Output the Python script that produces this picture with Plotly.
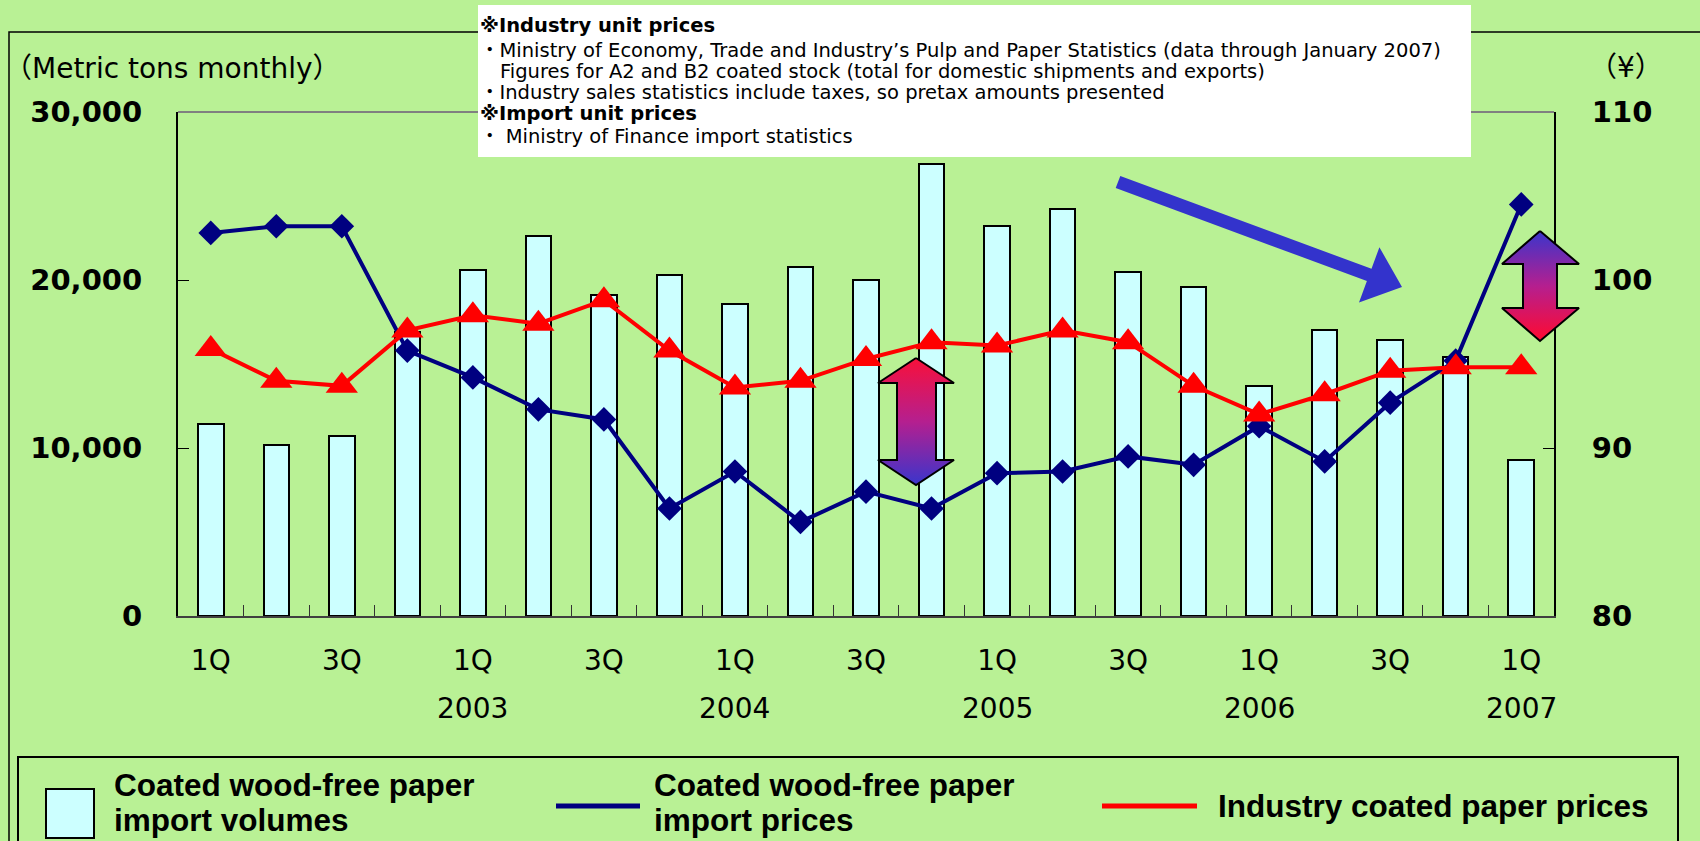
import plotly.graph_objects as go

# ---------------- data ----------------
categories = [
    "2002 1Q", "2002 2Q", "2002 3Q", "2002 4Q",
    "2003 1Q", "2003 2Q", "2003 3Q", "2003 4Q",
    "2004 1Q", "2004 2Q", "2004 3Q", "2004 4Q",
    "2005 1Q", "2005 2Q", "2005 3Q", "2005 4Q",
    "2006 1Q", "2006 2Q", "2006 3Q", "2006 4Q",
    "2007 1Q",
]
tick_text = ["1Q", "", "3Q", "", "1Q", "", "3Q", "", "1Q", "", "3Q", "",
             "1Q", "", "3Q", "", "1Q", "", "3Q", "", "1Q"]
year_text = ["", "", "", "", "2003", "", "", "", "2004", "", "", "",
             "2005", "", "", "", "2006", "", "", "", "2007"]

import_volumes = [11400, 10200, 10700, 16900, 20600, 22600, 19100, 20300,
                  18600, 20800, 20000, 26900, 23200, 24200, 20500, 19600,
                  13700, 17000, 16400, 15400, 9300]
import_prices = [102.8, 103.2, 103.2, 95.8, 94.2, 92.3, 91.7, 86.4,
                 88.6, 85.6, 87.4, 86.4, 88.5, 88.6, 89.5, 89.0,
                 91.3, 89.2, 92.7, 95.2, 104.5]
industry_prices = [95.9, 94.0, 93.7, 97.0, 97.9, 97.4, 98.8, 95.8,
                   93.6, 94.0, 95.3, 96.3, 96.1, 97.0, 96.3, 93.7,
                   92.0, 93.2, 94.6, 94.8, 94.8]

left_ticks = [0, 10000, 20000, 30000]
right_ticks = [80, 90, 100, 110]

note_lines = [
    ("<b>※Industry unit prices</b>", 478, 25),
    ("・Ministry of Economy, Trade and Industry’s Pulp and Paper Statistics (data through January 2007)", 478, 50),
    ("Figures for A2 and B2 coated stock (total for domestic shipments and exports)", 498, 71),
    ("・Industry sales statistics include taxes, so pretax amounts presented", 478, 92),
    ("<b>※Import unit prices</b>", 478, 113),
    ("・ Ministry of Finance import statistics", 478, 136),
]

W, H = 1700, 841
BG = "#b9f195"
NAVY = "#000080"
RED = "#ff0000"


def py(y):
    return 1 - y / H


fig = go.Figure()

fig.add_trace(go.Bar(
    x=categories, y=import_volumes, width=0.39,
    marker=dict(color="#ccffff", line=dict(color="black", width=2)),
    name="Coated wood-free paper import volumes",
    xaxis="x", yaxis="y",
))
fig.add_trace(go.Scatter(
    x=categories, y=import_prices, mode="lines+markers",
    line=dict(color=NAVY, width=4),
    marker=dict(symbol="diamond", size=19, color=NAVY),
    name="Coated wood-free paper import prices",
    xaxis="x", yaxis="y2",
))
fig.add_trace(go.Scatter(
    x=categories, y=industry_prices, mode="lines+markers",
    line=dict(color=RED, width=4),
    marker=dict(symbol="triangle-up", size=28, color=RED),
    name="Industry coated paper prices",
    xaxis="x", yaxis="y2",
))

# ---------- decorative arrows (pixel overlay axes) ----------
bx = [1120.3, 1371.5, 1379.4, 1402, 1359, 1366.9, 1115.7, 1120.3]
by = [175.9, 268.8, 247.2, 287, 302.6, 281.0, 188.1, 175.9]
fig.add_trace(go.Scatter(x=bx, y=by, mode="lines", fill="toself",
                         fillcolor="#3333cc", line=dict(width=0, color="#3333cc"),
                         xaxis="x3", yaxis="y3", hoverinfo="skip", showlegend=False))

a1x = [916, 954, 936, 936, 954, 916, 878, 897, 897, 878, 916]
a1y = [358, 383, 383, 460, 460, 485, 460, 460, 383, 383, 358]
fig.add_trace(go.Scatter(x=a1x, y=a1y, mode="lines", fill="toself",
                         fillgradient=dict(type="vertical", start=358, stop=485,
                                           colorscale=[[0, "#f8103a"], [0.5, "#b51f8f"], [1, "#3a35cc"]]),
                         line=dict(width=2, color="black"),
                         xaxis="x3", yaxis="y3", hoverinfo="skip", showlegend=False))

a2x = [1540, 1579, 1557, 1557, 1579, 1540, 1502, 1523, 1523, 1502, 1540]
a2y = [231, 264, 264, 308, 308, 341, 308, 308, 264, 264, 231]
fig.add_trace(go.Scatter(x=a2x, y=a2y, mode="lines", fill="toself",
                         fillgradient=dict(type="vertical", start=231, stop=341,
                                           colorscale=[[0, "#3a35cc"], [0.5, "#b51f8f"], [1, "#ff0a30"]]),
                         line=dict(width=2, color="black"),
                         xaxis="x3", yaxis="y3", hoverinfo="skip", showlegend=False))

shapes = []
shapes.append(dict(type="rect", xref="x3", yref="y3", x0=9, y0=32, x1=1760, y1=900,
                   line=dict(color="black", width=1.5), layer="below"))
shapes.append(dict(type="line", xref="x3", yref="y3", x0=178, y0=112, x1=1554, y1=112,
                   line=dict(color="#808080", width=2), layer="below"))
shapes.append(dict(type="rect", xref="x3", yref="y3", x0=478, y0=5, x1=1471, y1=157,
                   fillcolor="white", line=dict(width=0), layer="above"))
shapes.append(dict(type="rect", xref="x3", yref="y3", x0=18, y0=757, x1=1678, y1=900,
                   line=dict(color="black", width=2), layer="above"))
shapes.append(dict(type="rect", xref="x3", yref="y3", x0=46, y0=789, x1=94, y1=838,
                   fillcolor="#ccffff", line=dict(color="black", width=2), layer="above"))
shapes.append(dict(type="line", xref="x3", yref="y3", x0=556, y0=806, x1=640, y1=806,
                   line=dict(color=NAVY, width=5), layer="above"))
shapes.append(dict(type="line", xref="x3", yref="y3", x0=1102, y0=806, x1=1197, y1=806,
                   line=dict(color=RED, width=5), layer="above"))

annotations = []
for cat, yr in zip(categories, year_text):
    if yr:
        annotations.append(dict(x=cat, y=py(708), xref="x", yref="paper", text=yr,
                                showarrow=False, xanchor="center", yanchor="middle",
                                font=dict(family="DejaVu Sans", size=28, color="black")))
annotations.append(dict(x=2, y=68, xref="x3", yref="y3", text="（Metric tons monthly）",
                        showarrow=False, xanchor="left", yanchor="middle",
                        font=dict(family="DejaVu Sans, Noto Sans CJK JP", size=28, color="black")))
annotations.append(dict(x=1587, y=67, xref="x3", yref="y3", text="（¥）",
                        showarrow=False, xanchor="left", yanchor="middle",
                        font=dict(family="DejaVu Sans, Noto Sans CJK JP", size=28, color="black")))
for txt, x, y in note_lines:
    annotations.append(dict(x=x, y=y, xref="x3", yref="y3", text=txt, showarrow=False,
                            xanchor="left", yanchor="middle",
                            font=dict(family="DejaVu Sans, Noto Sans CJK JP", size=19.5, color="black")))
leg_font = dict(family="Liberation Sans", size=31.5, color="black")
annotations.append(dict(x=112, y=785, xref="x3", yref="y3", text="<b>Coated wood-free paper</b>",
                        showarrow=False, xanchor="left", yanchor="middle", font=leg_font))
annotations.append(dict(x=112, y=820, xref="x3", yref="y3", text="<b>import volumes</b>",
                        showarrow=False, xanchor="left", yanchor="middle", font=leg_font))
annotations.append(dict(x=652, y=785, xref="x3", yref="y3", text="<b>Coated wood-free paper</b>",
                        showarrow=False, xanchor="left", yanchor="middle", font=leg_font))
annotations.append(dict(x=652, y=820, xref="x3", yref="y3", text="<b>import prices</b>",
                        showarrow=False, xanchor="left", yanchor="middle", font=leg_font))
annotations.append(dict(x=1216, y=806, xref="x3", yref="y3", text="<b>Industry coated paper prices</b>",
                        showarrow=False, xanchor="left", yanchor="middle", font=leg_font))

tickfont_y = dict(family="DejaVu Sans", size=29, color="black", weight="bold")

fig.update_layout(
    template="none",
    width=W, height=H,
    margin=dict(l=0, r=0, t=0, b=0, pad=0, autoexpand=False),
    paper_bgcolor=BG, plot_bgcolor="rgba(0,0,0,0)",
    showlegend=False,
    bargap=0,
    xaxis=dict(
        domain=[178 / W, 1554 / W], anchor="y", automargin=False,
        type="category", categoryorder="array", categoryarray=categories,
        range=[-0.5, len(categories) - 0.5],
        tickmode="array", tickvals=categories, ticktext=tick_text,
        ticks="inside", tickson="boundaries", ticklen=11, tickwidth=1, tickcolor="#333333",
        showline=True, linecolor="#404040", linewidth=2, showgrid=False, zeroline=False,
        tickfont=dict(family="DejaVu Sans", size=28, color="black"),
        ticklabelstandoff=18,
    ),
    yaxis=dict(
        domain=[py(616), py(112)], anchor="x", automargin=False,
        range=[0, 30000], tickmode="array", tickvals=left_ticks, tickformat=",",
        ticks="inside", ticklen=11, tickwidth=1, tickcolor="black",
        showline=True, linecolor="black", linewidth=2, showgrid=False, zeroline=False,
        tickfont=tickfont_y, ticklabelstandoff=28,
    ),
    yaxis2=dict(
        overlaying="y", side="right", anchor="x", automargin=False,
        range=[80, 110], tickmode="array", tickvals=right_ticks,
        ticks="inside", ticklen=11, tickwidth=1, tickcolor="black",
        showline=True, linecolor="black", linewidth=2, showgrid=False, zeroline=False,
        tickfont=tickfont_y, ticklabelstandoff=30,
    ),
    xaxis3=dict(domain=[0, 1], range=[0, W], visible=False, anchor="y3",
                fixedrange=True, automargin=False),
    yaxis3=dict(domain=[0, 1], range=[H, 0], visible=False, anchor="x3",
                fixedrange=True, automargin=False),
    shapes=shapes,
    annotations=annotations,
)

fig.write_html("out.html")
